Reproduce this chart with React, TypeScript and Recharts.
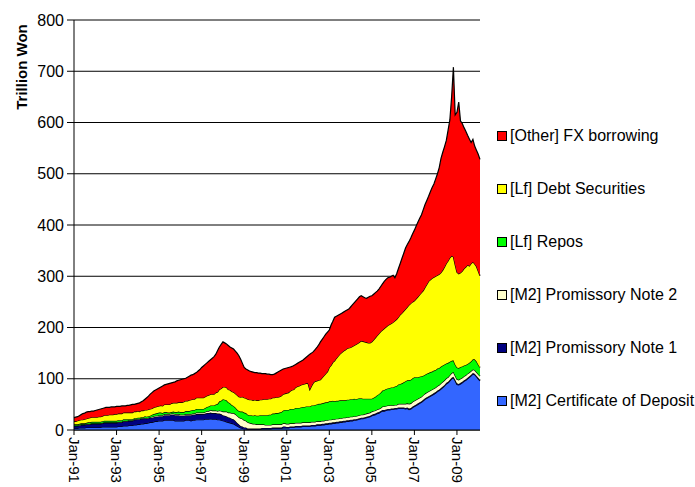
import React from 'react';
import { AreaChart, Area, XAxis, YAxis, CartesianGrid } from 'recharts';

// monthly, Jan-91 .. Feb-10 (trillion won)
const monthNames = ['Jan', 'Feb', 'Mar', 'Apr', 'May', 'Jun', 'Jul', 'Aug', 'Sep', 'Oct', 'Nov', 'Dec'];
const yearLabels = ['91', '92', '93', '94', '95', '96', '97', '98', '99', '00', '01', '02', '03', '04', '05', '06', '07', '08', '09', '10'];
const yTicks = [0, 100, 200, 300, 400, 500, 600, 700, 800];

const certificateOfDeposit = [
  3, 3, 3, 4, 4, 4, 4, 5, 5, 5, 5, 5,
  5, 5, 5, 5, 6, 6, 6, 6, 6, 6, 6, 6,
  6, 7, 7, 7, 8, 8, 8, 9, 9, 9, 10, 10,
  11, 11, 12, 12, 13, 13, 14, 15, 15, 16, 17, 17,
  18, 18, 18, 19, 19, 19, 19, 19, 19, 18, 18, 18,
  18, 18, 18, 19, 19, 19, 18, 19, 19, 20, 20, 20,
  20, 20, 21, 21, 21, 22, 21, 21, 21, 20, 20, 19,
  18, 17, 16, 15, 14, 13, 12, 10, 8, 6, 4, 3,
  2, 2, 1, 1, 1, 1, 1, 1, 1, 1, 2, 2,
  2, 2, 2, 2, 3, 3, 3, 3, 3, 3, 4, 4,
  4, 4, 5, 5, 5, 6, 6, 6, 6, 7, 7, 7,
  7, 7, 8, 8, 8, 9, 9, 9, 10, 10, 11, 11,
  12, 12, 13, 13, 14, 14, 15, 15, 16, 16, 17, 17,
  18, 18, 19, 19, 20, 21, 22, 22, 23, 24, 25, 26,
  28, 29, 30, 32, 33, 35, 37, 37, 38, 39, 39, 40,
  40, 41, 41, 42, 42, 42, 42, 41, 42, 40, 41, 44,
  46, 48, 50, 52, 54, 57, 60, 62, 64, 66, 68, 70,
  72, 75, 77, 80, 83, 86, 90, 92, 96, 100, 102, 96,
  89, 88, 90, 92, 95, 97, 100, 103, 106, 109, 108, 104,
  100, 96,
];

const promissoryNote1 = [
  5, 5, 5, 5, 6, 6, 6, 6, 6, 6, 7, 7,
  7, 7, 7, 7, 7, 8, 8, 8, 8, 8, 8, 8,
  8, 8, 8, 8, 9, 9, 9, 9, 9, 9, 10, 10,
  10, 10, 10, 10, 10, 9, 9, 9, 9, 9, 9, 9,
  9, 9, 9, 10, 10, 10, 10, 11, 11, 11, 11, 11,
  10, 10, 10, 10, 10, 10, 11, 11, 11, 11, 11, 11,
  11, 11, 11, 12, 12, 12, 12, 12, 12, 12, 12, 12,
  11, 11, 11, 10, 10, 9, 9, 8, 6, 5, 4, 4,
  3, 3, 2, 2, 2, 2, 2, 2, 2, 2, 2, 2,
  2, 2, 2, 2, 2, 2, 2, 2, 2, 2, 3, 3,
  2, 2, 2, 2, 2, 2, 2, 2, 2, 2, 2, 2,
  2, 2, 2, 2, 2, 2, 2, 2, 2, 2, 2, 2,
  2, 2, 2, 2, 2, 2, 2, 2, 2, 2, 2, 2,
  2, 2, 2, 2, 2, 2, 2, 2, 2, 2, 2, 2,
  2, 2, 2, 2, 2, 2, 2, 2, 2, 2, 2, 2,
  2, 2, 2, 2, 2, 2, 2, 2, 2, 2, 2, 2,
  2, 2, 2, 2, 2, 2, 2, 2, 2, 2, 2, 2,
  2, 2, 2, 2, 2, 2, 2, 2, 2, 2, 2, 2,
  2, 2, 2, 2, 2, 2, 2, 2, 2, 2, 2, 2,
  2, 2,
];

const promissoryNote2 = [
  1, 1, 1, 1, 1, 1, 1, 1, 1, 1, 1, 1,
  1, 1, 1, 1, 1, 1, 1, 1, 1, 1, 1, 1,
  1, 1, 1, 1, 1, 1, 1, 1, 1, 1, 1, 1,
  1, 1, 1, 1, 1, 1, 1, 1, 2, 2, 2, 2,
  2, 2, 2, 2, 2, 2, 2, 2, 2, 2, 2, 2,
  2, 2, 2, 2, 2, 2, 2, 2, 2, 3, 3, 3,
  3, 3, 3, 4, 4, 5, 5, 5, 5, 5, 6, 6,
  7, 8, 9, 9, 10, 11, 12, 13, 14, 14, 15, 15,
  14, 13, 12, 11, 10, 9, 9, 8, 8, 8, 7, 7,
  6, 6, 6, 6, 6, 6, 6, 6, 6, 6, 6, 6,
  6, 6, 6, 6, 6, 6, 6, 6, 6, 6, 6, 6,
  6, 6, 6, 6, 6, 6, 6, 6, 6, 6, 6, 6,
  6, 6, 6, 6, 6, 6, 6, 6, 6, 6, 6, 6,
  6, 6, 6, 6, 6, 6, 6, 6, 6, 6, 6, 6,
  6, 6, 6, 6, 6, 6, 7, 7, 7, 7, 7, 7,
  6, 6, 6, 7, 7, 7, 7, 8, 8, 9, 9, 9,
  9, 9, 9, 9, 9, 9, 9, 9, 9, 9, 9, 9,
  9, 9, 9, 9, 9, 9, 9, 9, 9, 9, 9, 8,
  8, 8, 8, 8, 8, 8, 8, 7, 7, 7, 7, 7,
  7, 7,
];

const repos = [
  2, 2, 2, 2, 2, 2, 2, 2, 3, 3, 3, 3,
  3, 3, 3, 3, 3, 3, 3, 3, 3, 3, 3, 3,
  3, 3, 3, 3, 3, 3, 3, 2, 2, 2, 2, 2,
  2, 2, 2, 2, 3, 3, 3, 3, 4, 4, 4, 5,
  5, 5, 4, 4, 4, 3, 3, 3, 4, 4, 4, 5,
  5, 5, 5, 6, 6, 6, 7, 7, 7, 7, 7, 7,
  7, 7, 8, 8, 9, 9, 10, 10, 12, 14, 18, 20,
  24, 23, 22, 20, 18, 16, 14, 13, 12, 12, 13, 14,
  15, 15, 15, 15, 16, 16, 17, 17, 17, 18, 18, 18,
  19, 19, 20, 20, 21, 21, 22, 22, 23, 24, 25, 26,
  27, 27, 28, 28, 28, 29, 29, 29, 30, 30, 30, 31,
  31, 31, 32, 32, 33, 33, 34, 34, 34, 35, 35, 35,
  36, 36, 36, 35, 35, 35, 35, 35, 34, 34, 34, 34,
  34, 34, 34, 33, 33, 33, 32, 31, 30, 29, 28, 27,
  25, 26, 27, 28, 29, 30, 31, 32, 33, 33, 34, 34,
  35, 36, 37, 38, 39, 40, 42, 44, 45, 46, 46, 46,
  46, 44, 42, 41, 40, 38, 37, 37, 36, 36, 35, 35,
  34, 34, 33, 33, 32, 31, 29, 28, 26, 24, 23, 22,
  23, 23, 23, 22, 21, 20, 19, 19, 19, 20, 21, 21,
  19, 17,
];

const debtSecurities = [
  6, 6, 7, 7, 7, 7, 8, 8, 8, 9, 9, 9,
  9, 9, 10, 10, 10, 11, 11, 11, 12, 12, 12, 13,
  13, 13, 13, 13, 13, 13, 13, 13, 13, 13, 13, 13,
  13, 12, 13, 13, 12, 13, 13, 13, 12, 13, 13, 13,
  13, 14, 14, 15, 15, 16, 16, 17, 17, 18, 18, 18,
  19, 19, 20, 20, 20, 21, 21, 21, 21, 22, 22, 22,
  22, 22, 22, 22, 22, 22, 22, 22, 23, 23, 23, 24,
  24, 25, 25, 25, 26, 26, 27, 27, 28, 28, 28, 29,
  29, 29, 30, 30, 30, 30, 30, 30, 30, 30, 30, 31,
  31, 31, 31, 31, 31, 31, 31, 31, 31, 32, 32, 32,
  33, 34, 35, 37, 38, 40, 42, 43, 44, 44, 45, 45,
  45, 33, 38, 44, 46, 46, 46, 47, 50, 53, 56, 60,
  66, 70, 75, 79, 83, 87, 90, 93, 96, 98, 100, 101,
  101, 103, 104, 107, 108, 109, 112, 112, 111, 110, 109, 109,
  111, 113, 115, 116, 118, 119, 118, 120, 121, 123, 124, 125,
  127, 128, 130, 131, 135, 137, 139, 141, 143, 147, 149, 149,
  149, 153, 157, 160, 163, 166, 170, 174, 179, 180, 182, 182,
  183, 182, 183, 183, 186, 190, 195, 199, 203, 205, 202, 194,
  186, 184, 184, 186, 189, 191, 193, 189, 191, 190, 186, 185,
  182, 179,
];

const fxBorrowing = [
  7, 8, 8, 9, 10, 12, 12, 13, 13, 12, 12, 12,
  13, 14, 14, 15, 15, 14, 15, 15, 14, 15, 15, 14,
  15, 14, 14, 15, 13, 13, 14, 14, 15, 16, 14, 15,
  15, 17, 17, 19, 21, 24, 26, 29, 31, 32, 33, 34,
  35, 36, 39, 38, 39, 40, 41, 40, 40, 41, 43, 43,
  44, 45, 45, 44, 46, 47, 48, 48, 50, 49, 52, 55,
  59, 62, 63, 64, 66, 67, 70, 73, 75, 81, 83, 86,
  88, 86, 85, 86, 84, 85, 84, 83, 82, 80, 74, 65,
  59, 57, 57, 56, 55, 55, 53, 54, 53, 52, 51, 50,
  50, 49, 48, 47, 45, 46, 47, 49, 50, 50, 49, 49,
  49, 49, 47, 46, 47, 45, 45, 46, 46, 47, 49, 51,
  54, 69, 64, 61, 62, 65, 69, 74, 75, 76, 77, 77,
  73, 79, 80, 85, 82, 80, 78, 77, 76, 76, 75, 76,
  79, 81, 83, 85, 87, 89, 88, 87, 86, 86, 89, 91,
  90, 89, 88, 87, 87, 88, 90, 92, 93, 93, 92, 92,
  92, 84, 89, 95, 100, 107, 113, 119, 122, 124, 128, 133,
  138, 142, 146, 149, 152, 158, 162, 164, 166, 172, 177, 182,
  190, 198, 208, 223, 230, 235, 240, 255, 269, 310, 370, 293,
  312, 335, 296, 288, 275, 265, 253, 248, 236, 239, 230, 227,
  228, 227,
];

const series = [
  { key: 'cd', name: '[M2] Certificate of Deposit', color: '#3366FF', values: certificateOfDeposit },
  { key: 'pn1', name: '[M2] Promissory Note 1', color: '#000080', values: promissoryNote1 },
  { key: 'pn2', name: '[M2] Promissory Note 2', color: '#FFFFCC', values: promissoryNote2 },
  { key: 'repos', name: '[Lf] Repos', color: '#00FF00', values: repos },
  { key: 'debt', name: '[Lf] Debt Securities', color: '#FFFF00', values: debtSecurities },
  { key: 'fx', name: '[Other] FX borrowing', color: '#FF0000', values: fxBorrowing },
];

const categories = yearLabels
  .flatMap((y) => monthNames.map((m) => `${m}-${y}`))
  .slice(0, certificateOfDeposit.length);

const data = categories.map((label, i) => {
  const row: Record<string, string | number> = { label };
  series.forEach((s) => {
    row[s.key] = s.values[i];
  });
  return row;
});

const FONT = '"Liberation Sans", Arial, sans-serif';

const XTick = ({ x, y, payload }: any) => {
  const ty = y;
  return (
    <text
      x={x}
      y={ty}
      transform={`rotate(90, ${x}, ${ty})`}
      textAnchor="start"
      dy="0.36em"
      fontSize={15}
      fontFamily={FONT}
      fill="#000"
    >
      {payload.value}
    </text>
  );
};

const App = () => {
  return (
    <div style={{ position: 'absolute', left: 0, top: 0, width: 695, height: 487, background: '#fff', fontFamily: FONT }}>
      <AreaChart
        width={695}
        height={487}
        data={data}
        margin={{ top: 20, right: 215, left: 0, bottom: 0 }}
      >
        <CartesianGrid horizontal vertical={false} stroke="#000" strokeWidth={1} />
        <XAxis
          dataKey="label"
          interval={23}
          height={57}
          tickSize={5}
          tick={<XTick />}
          axisLine={{ stroke: '#000' }}
          tickLine={{ stroke: '#000' }}
        />
        <YAxis
          domain={[0, 800]}
          ticks={yTicks}
          width={74}
          tickSize={7}
          tickMargin={3}
          tick={{ fontSize: 16, fill: '#000', fontFamily: FONT }}
          axisLine={{ stroke: '#000' }}
          tickLine={{ stroke: '#000' }}
        />
        <YAxis
          yAxisId="frame"
          orientation="right"
          domain={[0, 800]}
          width={0}
          tick={false}
          tickLine={false}
          axisLine={{ stroke: '#999' }}
        />
        {series.map((s) => (
          <Area
            key={s.key}
            type="linear"
            dataKey={s.key}
            name={s.name}
            stackId="1"
            stroke="#000"
            strokeWidth={1.2}
            fill={s.color}
            fillOpacity={1}
            dot={false}
            activeDot={false}
            isAnimationActive={false}
          />
        ))}
      </AreaChart>

      <div
        style={{
          position: 'absolute',
          left: 21,
          top: 67,
          transform: 'translate(-50%, -50%) rotate(-90deg)',
          fontSize: 15,
          fontWeight: 'bold',
          whiteSpace: 'nowrap',
          color: '#000',
        }}
      >
        Trillion Won
      </div>

      {[...series].reverse().map((s, i) => (
        <div
          key={s.key}
          style={{
            position: 'absolute',
            left: 497,
            top: 136 + i * 53 - 10,
            height: 20,
            display: 'flex',
            alignItems: 'center',
            fontSize: 16,
            color: '#000',
            whiteSpace: 'nowrap',
          }}
        >
          <span
            style={{
              display: 'inline-block',
              width: 10,
              height: 10,
              boxSizing: 'border-box',
              border: '1px solid #000',
              background: s.color,
              marginRight: 3,
            }}
          />
          {s.name}
        </div>
      ))}
    </div>
  );
};

export default App;
